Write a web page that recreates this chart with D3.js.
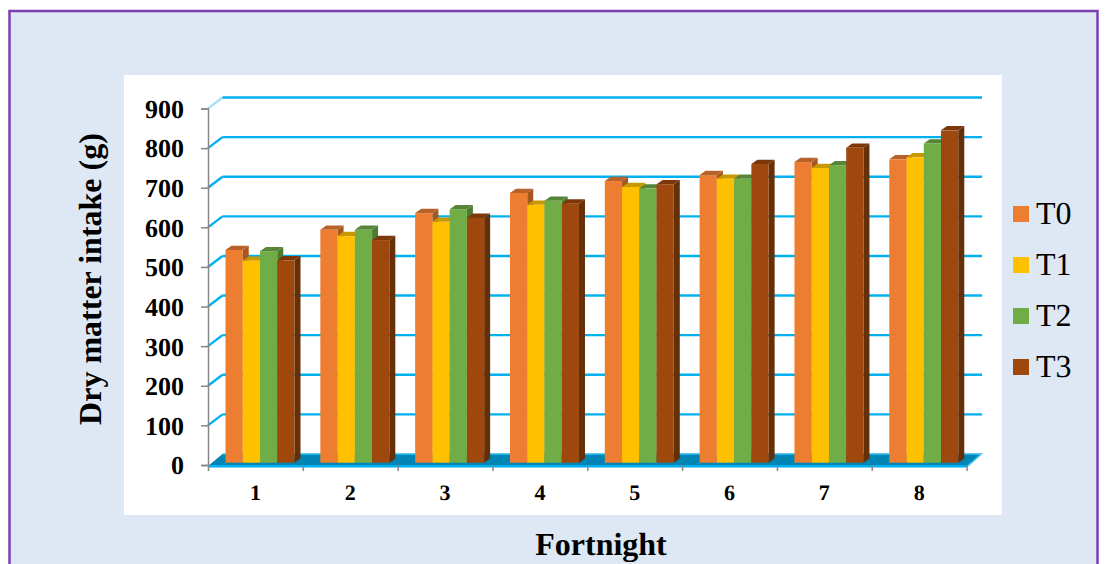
<!DOCTYPE html>
<html>
<head>
<meta charset="utf-8">
<script src="https://cdn.jsdelivr.net/npm/d3@7/dist/d3.min.js"></script>
<style>
html,body{margin:0;padding:0;background:#fff;overflow:hidden}
svg{display:block}
text{font-family:"Liberation Serif","Times New Roman",serif;fill:#000;text-rendering:geometricPrecision}
</style>
</head>
<body>
<svg id="chart" width="1106" height="564"></svg>
<script>
// Dry matter intake per fortnight, by treatment group
const fortnights = ["1","2","3","4","5","6","7","8"];
const seriesNames = ["T0","T1","T2","T3"];
const T0 = [537,588,630,681,711,726,759,766];
const T1 = [510,572,608,651,696,717,744,771];
const T2 = [534,588,640,661,692,717,751,806];
const T3 = [511,562,618,654,703,754,795,839];
const seriesValues = [T0,T1,T2,T3];
const yTicks = [0,100,200,300,400,500,600,700,800,900];

const faceColors = ["#ed7d31","#ffc000","#70ad47","#9e480e"];
const topColors  = ["#b9612a","#c99700","#578538","#7c380b"];
const sideColors = ["#a5571f","#b28600","#4e7a31","#652f08"];

const svg = d3.select("#chart");

// Outer panel with its purple frame; the bottom edge runs off the page
svg.append("rect").attr("x",9.5).attr("y",11).attr("width",1088).attr("height",570)
  .attr("fill","#dde8f4").attr("stroke","#7d3fb0").attr("stroke-width",2.5);
// White plot card
svg.append("rect").attr("x",124).attr("y",75).attr("width",878).attr("height",440).attr("fill","#fff");

// Scales and the oblique projection of the 3D box
const y = d3.scaleLinear().domain([0,900]).range([465,108.5]);
const xLeft = 208, xRight = 966.6;
const x = d3.scaleBand().domain(fortnights).range([xLeft,xRight]);
const xEdges = d3.scaleLinear().domain([0,fortnights.length]).range([xLeft,xRight]);
const wallDx = 14.5, wallDy = -11;
const groupInset = 17.5, groupWidth = 69;
const xSeries = d3.scaleBand().domain(seriesNames).range([0,groupWidth]);
const barDx = 6, barDy = -4.3, baseDy = -2.3;

// Gridlines: a slanted run on the side wall, then across the back wall
const grid = svg.append("g");
yTicks.filter(v=>v>0).forEach(v=>{
  const yy = y(v);
  grid.append("path")
    .attr("d",d3.line()([[xLeft,yy],[xLeft+wallDx,yy+wallDy]]))
    .attr("stroke", v===900 ? "#a5e0f7" : "#00b0f0").attr("stroke-width",2.4).attr("fill","none");
  grid.append("path")
    .attr("d",d3.line()([[xLeft+wallDx,yy+wallDy],[xRight+wallDx+1,yy+wallDy]]))
    .attr("stroke","#00b0f0").attr("stroke-width",2.4).attr("fill","none");
});

// Floor of the box
const y0 = y(0);
svg.append("path")
  .attr("d",d3.line()([[xLeft,y0+1],[xLeft+wallDx,y0+wallDy],[xRight+wallDx,y0+wallDy],[xRight,y0+1]])+"Z")
  .attr("fill","#0085b5");
svg.append("path")
  .attr("d",d3.line()([[xLeft+wallDx,y0+wallDy],[xRight+wallDx,y0+wallDy],[xRight,y0+2]]))
  .attr("fill","none").attr("stroke","#29bdf2").attr("stroke-width",1.5);
svg.append("rect").attr("x",xLeft).attr("y",y0).attr("width",xRight-xLeft).attr("height",2.5).attr("fill","#00b0f0");

// Bars: side and top faces first, then the front, moving left to right
const bars = svg.append("g");
fortnights.forEach((f,i)=>{
  seriesNames.forEach((s,j)=>{
    const v = seriesValues[j][i];
    const x0 = x(f)+groupInset+xSeries(s), x1 = x0+xSeries.bandwidth();
    const top = y(v)+baseDy, base = y(0)+baseDy;
    bars.append("path")
      .attr("d",d3.line()([[x1,top],[x1+barDx,top+barDy],[x1+barDx,base+barDy],[x1,base]])+"Z")
      .attr("fill",sideColors[j]);
    bars.append("path")
      .attr("d",d3.line()([[x0,top],[x0+barDx,top+barDy],[x1+barDx,top+barDy],[x1,top]])+"Z")
      .attr("fill",topColors[j]);
    bars.append("rect").attr("x",x0).attr("y",top)
      .attr("width",xSeries.bandwidth()).attr("height",base-top).attr("fill",faceColors[j]);
  });
});

// Axes
const axisGray = "#868686";
const yAxis = svg.append("g").attr("transform",`translate(${xLeft},0)`)
  .call(d3.axisLeft(y).tickValues(yTicks).tickSize(7).tickPadding(17));
yAxis.selectAll("text").style("font-size","26px").style("font-weight","bold")
  .attr("dy","0.34em");
const xTickAxis = svg.append("g").attr("transform",`translate(0,${y0})`)
  .call(d3.axisBottom(xEdges).tickValues(d3.range(fortnights.length+1)).tickSize(6).tickFormat(""));
const xLabelAxis = svg.append("g").attr("transform",`translate(0,${y0})`)
  .call(d3.axisBottom(x).tickSize(0).tickPadding(19));
xLabelAxis.select(".domain").remove();
xLabelAxis.selectAll("text").style("font-size","22px").style("font-weight","bold");
[yAxis,xTickAxis].forEach(a=>{
  a.selectAll(".domain").attr("stroke",axisGray).attr("stroke-width",1.5);
  a.selectAll(".tick line").attr("stroke",axisGray).attr("stroke-width",1.5);
});
xTickAxis.select(".domain").attr("stroke","none");
svg.selectAll(".tick text").attr("fill","#000");

// Axis titles
svg.append("text").attr("transform","translate(101,279) rotate(-90)")
  .attr("text-anchor","middle").style("font-size","32px").style("font-weight","bold")
  .text("Dry matter intake (g)");
svg.append("text").attr("x",601).attr("y",555)
  .attr("text-anchor","middle").style("font-size","32px").style("font-weight","bold")
  .text("Fortnight");

// Legend
const legendY = d3.scalePoint().domain(seriesNames).range([214,367]);
const legend = svg.append("g").selectAll("g").data(seriesNames).join("g")
  .attr("transform",d=>`translate(1013,${legendY(d)})`);
legend.append("rect").attr("y",-8).attr("width",16).attr("height",16)
  .attr("fill",(d,i)=>faceColors[i]);
legend.append("text").attr("x",23).attr("y",10).style("font-size","32px").text(d=>d);
</script>
</body>
</html>
